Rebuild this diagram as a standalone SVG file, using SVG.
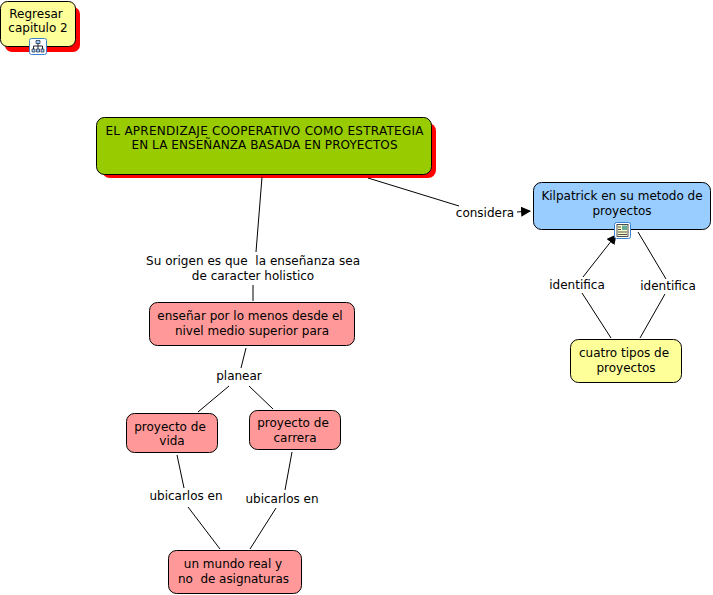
<svg xmlns="http://www.w3.org/2000/svg" width="713" height="595" viewBox="0 0 713 595">
<style>
text{font-family:"DejaVu Sans",Verdana,sans-serif;font-size:12px;fill:#000;text-anchor:middle;white-space:pre}
.n{stroke:#000;stroke-width:1}
.sh{fill:#f00;stroke:none}
.y{fill:#ffff99}.r{fill:#ff9999}.g{fill:#99cc00}.b{fill:#99ccff}
#connectors line{stroke:#000;stroke-width:1}
.ic{fill:#fff;stroke:#3a80d0;stroke-width:1}
</style>
<defs><marker id="a" markerWidth="10" markerHeight="10" refX="9" refY="5" orient="auto" markerUnits="userSpaceOnUse"><path d="M0 0L10 5L0 10z" fill="#000"/></marker></defs>
<rect width="713" height="595" fill="#fff"/>
<g id="node-regresar">
<rect class="sh" x="5" y="7" width="75" height="45" rx="7"/>
<rect class="n y" x="0.500" y="1.500" width="75" height="45" rx="7"/>
<text x="36" y="18">Regresar</text><text x="38" y="32">capitulo 2</text>
<rect class="ic" x="29.500" y="38.500" width="17" height="16" rx="2"/>
<path d="M38 41v9M33.500 50v-4h9v4" fill="none" stroke="#223" stroke-width="1"/>
<path d="M36 40.500h4v3h-4zM32 49h3v3h-3zM36.500 49h3v3h-3zM41 49h3v3h-3z" fill="#9cf" stroke="#223" stroke-width=".7"/>
</g>
<g id="node-main">
<rect class="sh" x="102" y="123" width="334" height="55" rx="8"/>
<rect class="n g" x="96.500" y="117.500" width="335" height="57" rx="8"/>
<text x="264.500" y="135" textLength="318" lengthAdjust="spacing">EL APRENDIZAJE COOPERATIVO COMO ESTRATEGIA</text>
<text x="264.500" y="149" textLength="266" lengthAdjust="spacing">EN LA ENSEÑANZA BASADA EN PROYECTOS</text>
</g>
<g id="connectors">
<line x1="262" y1="177" x2="256" y2="252"/>
<line x1="253" y1="285" x2="253" y2="301"/>
<line x1="368" y1="178" x2="459" y2="206"/>
<line x1="517" y1="212" x2="530" y2="211" marker-end="url(#a)"/>
<line x1="611" y1="338" x2="582" y2="293"/>
<line x1="583" y1="277" x2="616" y2="235" marker-end="url(#a)"/>
<line x1="640" y1="338" x2="665" y2="294"/>
<line x1="666" y1="279" x2="638" y2="232"/>
<line x1="246" y1="348" x2="241" y2="368"/>
<line x1="229" y1="386" x2="198" y2="412"/>
<line x1="249" y1="386" x2="273" y2="409"/>
<line x1="177" y1="455" x2="184" y2="488"/>
<line x1="188" y1="507" x2="220" y2="549"/>
<line x1="292" y1="452" x2="285" y2="490"/>
<line x1="276" y1="508" x2="250" y2="549"/>
</g>
<g id="node-kilpatrick">
<rect class="n b" x="533.500" y="182.500" width="177" height="47" rx="8"/>
<text x="622" y="200">Kilpatrick en su metodo de</text><text x="622" y="215">proyectos</text>
<rect class="ic" x="614.500" y="222.500" width="16" height="16" rx="2"/>
<rect x="617" y="224.500" width="11" height="12" fill="#ffffcc" stroke="#223" stroke-width=".8"/>
<path d="M618 227h3M618 229.500h3M618 232h9M618 234.500h9" stroke="#223" stroke-width=".8"/>
<rect x="622" y="225.500" width="5" height="4.500" fill="#6a9"/>
</g>
<g id="node-cuatro">
<rect class="n y" x="570.500" y="339.500" width="111" height="43" rx="8"/>
<text x="624" y="357">cuatro tipos de</text><text x="626" y="372">proyectos</text>
</g>
<g id="node-ensenar">
<rect class="n r" x="149.500" y="302.500" width="205" height="43" rx="8"/>
<text x="250" y="320">enseñar por lo menos desde el</text><text x="252" y="335">nivel medio superior para</text>
</g>
<g id="node-vida">
<rect class="n r" x="126.500" y="413.500" width="91" height="39" rx="8"/>
<text x="170" y="431">proyecto de</text><text x="172" y="445">vida</text>
</g>
<g id="node-carrera">
<rect class="n r" x="249.500" y="410.500" width="91" height="39" rx="8"/>
<text x="293" y="427">proyecto de</text><text x="295" y="442">carrera</text>
</g>
<g id="node-mundo">
<rect class="n r" x="168.500" y="550.500" width="133" height="43" rx="8"/>
<text x="233" y="568">un mundo real y</text><text x="233.500" y="583" xml:space="preserve" textLength="111">no  de asignaturas</text>
</g>
<g id="labels">
<text x="253" y="265" xml:space="preserve" textLength="214">Su origen es que  la enseñanza sea</text>
<text x="253" y="280">de caracter holistico</text>
<text x="485" y="217">considera</text>
<text x="577" y="289">identifica</text>
<text x="668" y="290">identifica</text>
<text x="239" y="380">planear</text>
<text x="186" y="500">ubicarlos en</text>
<text x="282" y="503">ubicarlos en</text>
</g>
</svg>
